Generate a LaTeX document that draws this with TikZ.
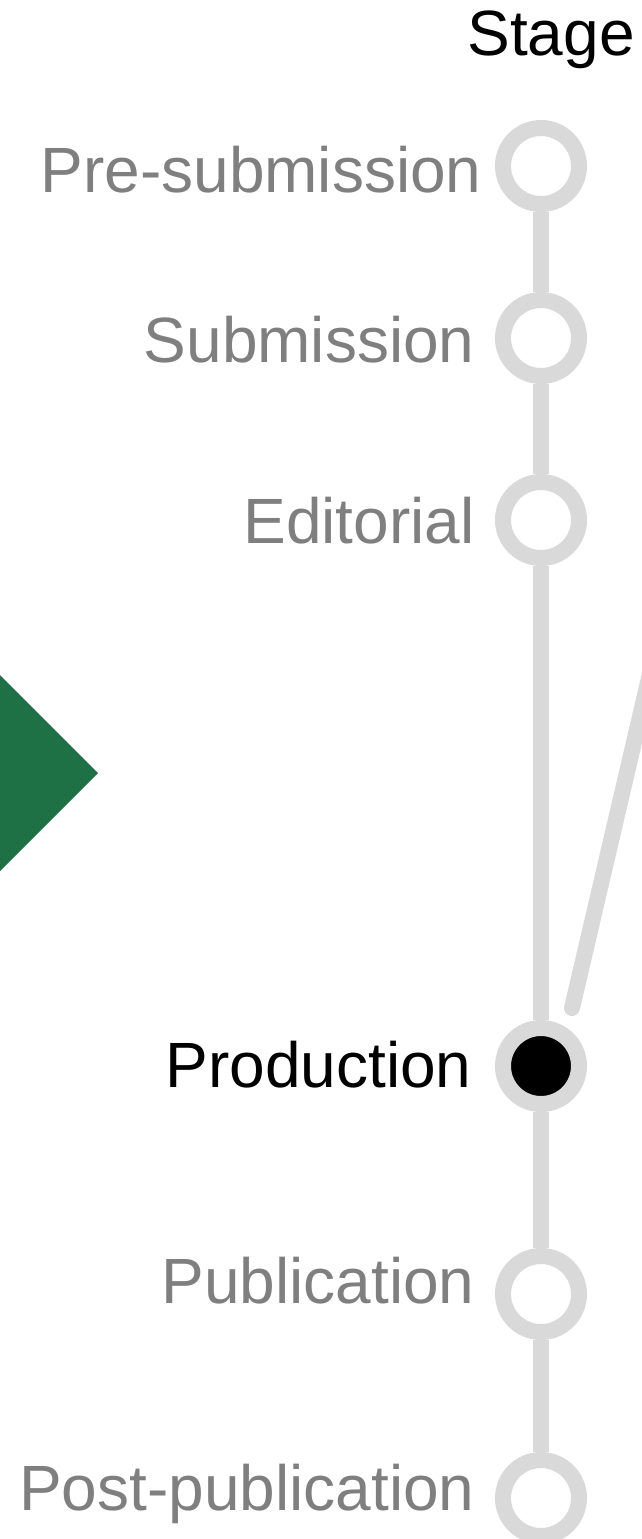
\documentclass[tikz,border=0pt]{standalone}
\usepackage{fontspec}
\setmainfont{Liberation Sans}
\usepackage{tikz}
\definecolor{railgray}{HTML}{D9D9D9}
\definecolor{labelgray}{HTML}{7F7F7F}
\definecolor{arrowgreen}{HTML}{1E7145}
\tikzstyle{stage} = [circle, draw=railgray, line width=8pt, fill=white, minimum size=38pt, inner sep=0pt]
\tikzstyle{current} = [stage, fill=black]
\tikzstyle{rail} = [draw=railgray, line width=8pt]
\tikzstyle{label} = [anchor=base east, inner sep=0pt, text=labelgray, font=\fontsize{32}{38}\selectfont]

\begin{document}
\begin{tikzpicture}[x = 0.5pt, y = -0.5pt]

% ----------------------------------------------------

% page size (px of the original)
\useasboundingbox (0,0) rectangle (642,1539);

% ----------------------------------------------------

  % green arrow head at the left edge
  \fill[arrowgreen] (-20,655) -- (98,773) -- (-20,891) -- cycle;

  % stage circles
  \node (presub) [stage] at (541,166) {};
  \node (sub) [stage] at (541,338) {};
  \node (edit) [stage] at (541,520) {};
  \node (prod) [current] at (541,1066) {};
  \node (pub) [stage] at (541,1294) {};
  \node (postpub) [stage] at (541,1498) {};

  \draw[rail] (presub) -- (sub);
  \draw[rail] (sub) -- (edit);
  \draw[rail] (edit) -- (prod);
  \draw[rail] (prod) -- (pub);
  \draw[rail] (pub) -- (postpub);

  % line going off to the right
  \coordinate (tailbot) at (572,1008);
  \coordinate (tailtop) at (656,648);
  \draw[rail, line cap=round] (tailbot) -- (tailtop);

  % labels
  \node (title) [anchor=base west, inner sep=0pt, font=\fontsize{32}{38}\selectfont] at (467,55) {Stage};
  \node (presubtext) [label] at (482,192) {Pre-submission};
  \node (subtext) [label] at (475,362) {Submission};
  \node (edittext) [label] at (475,543) {Editorial};
  \node (prodtext) [label, text=black] at (472,1087) {Production};
  \node (pubtext) [label] at (475,1303) {Publication};
  \node (postpubtext) [label] at (475,1510) {Post-publication};

\end{tikzpicture}
\end{document}
